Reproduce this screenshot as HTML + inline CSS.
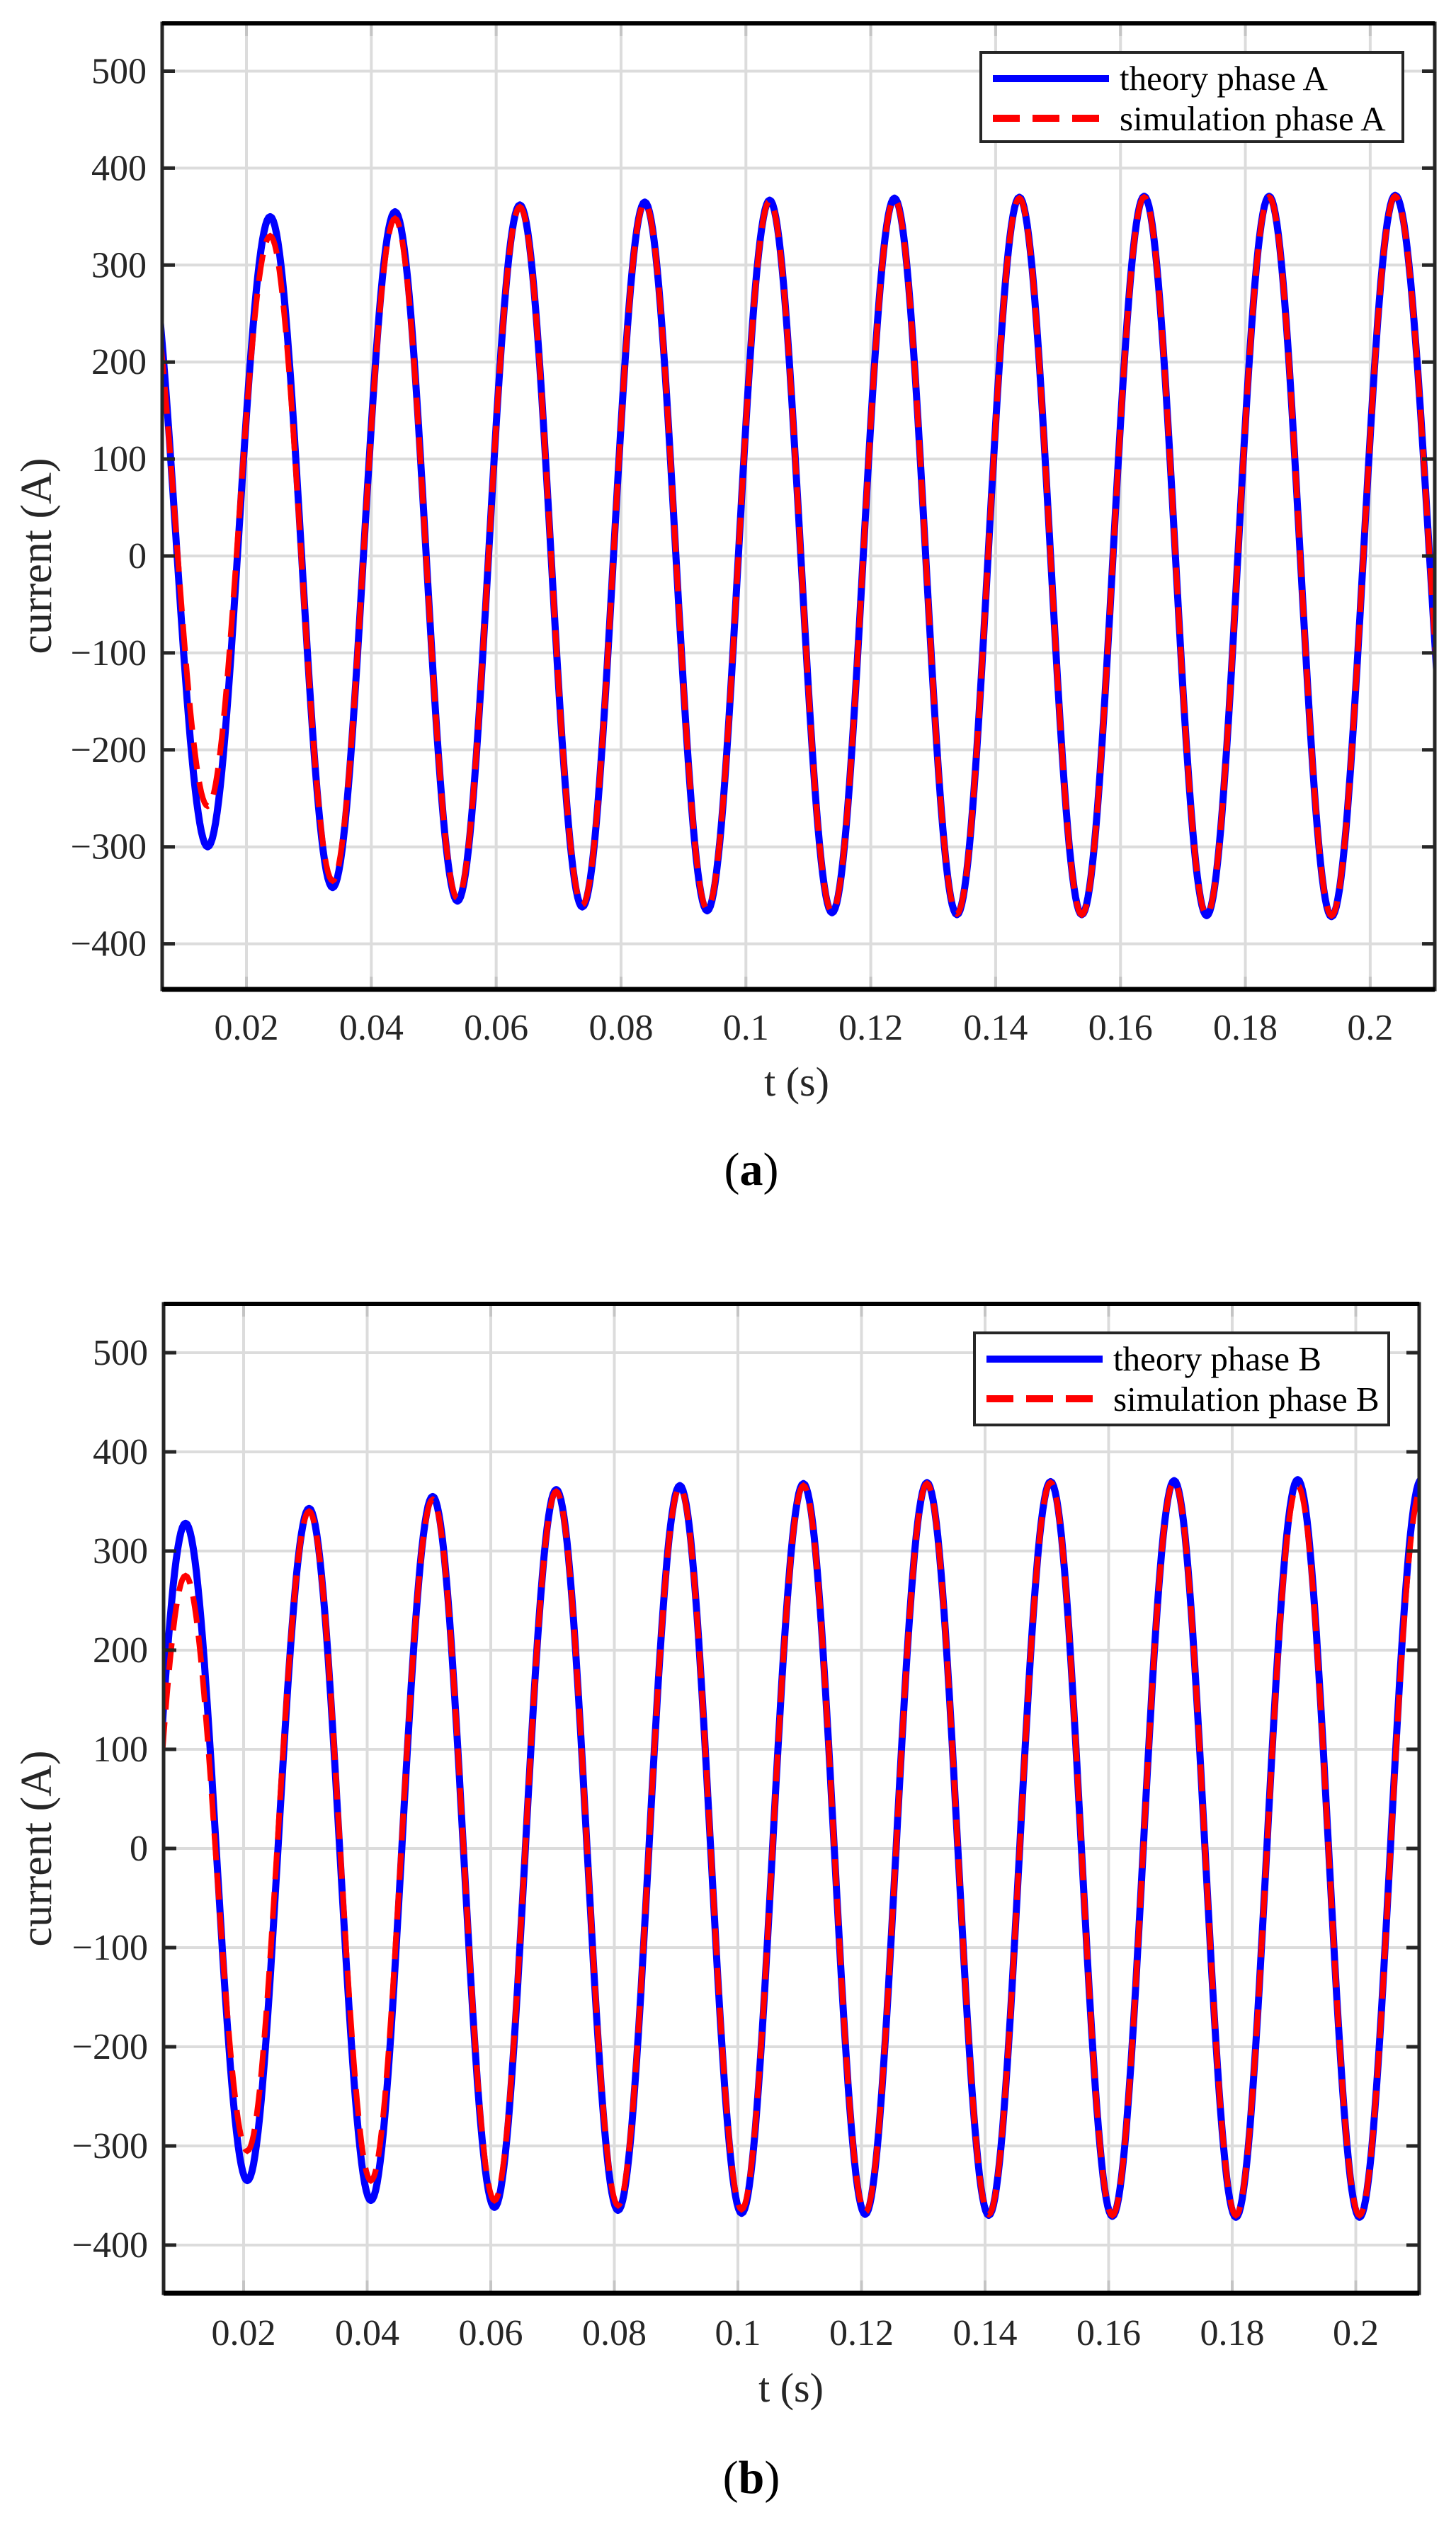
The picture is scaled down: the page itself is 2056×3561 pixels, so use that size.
<!DOCTYPE html>
<html><head><meta charset="utf-8"><style>
html,body{margin:0;padding:0;background:#fff;}
svg{display:block;font-family:"Liberation Serif","Times New Roman",serif;}
</style></head><body>
<svg id="root" width="2056" height="3561" viewBox="0 0 2056 3561" xmlns="http://www.w3.org/2000/svg"></svg>
<script>
// ---- data ----
const yTicks = [500,400,300,200,100,0,-100,-200,-300,-400];
const yTickLabels = ["500","400","300","200","100","0","\u2212100","\u2212200","\u2212300","\u2212400"];
const xTicks = [0.02,0.04,0.06,0.08,0.1,0.12,0.14,0.16,0.18,0.2];
const xTickLabels = ["0.02","0.04","0.06","0.08","0.1","0.12","0.14","0.16","0.18","0.2"];
// Phase A extrema (time of extrema, values) - includes a virtual leading peak
const extremaTimesA = [0.0036,0.0138,0.0238,0.0338,0.0438,0.0538,0.0638,0.0738,0.0838,0.0938,0.1038,0.1138,0.1238,0.1338,0.1438,0.1538,0.1638,0.1738,0.1838,0.1938,0.2040,0.2150];
const theoryA = [339,-300,350,-342,355,-356,362,-362,365,-366,367,-368,369,-370,370,-370,371,-371,371,-372,372,-372];
const simA = [310,-258,330,-335,348,-353,360,-360,364,-364,366,-367,368,-369,369,-370,370,-370,370,-371,371,-371];
// Phase B extrema - includes a virtual leading trough
const extremaTimesB = [0.0006,0.0106,0.0206,0.0306,0.0406,0.0506,0.0606,0.0706,0.0806,0.0906,0.1006,0.1106,0.1206,0.1306,0.1406,0.1506,0.1606,0.1706,0.1806,0.1906,0.2006,0.2106];
const theoryB = [-333,328,-335,343,-355,355,-362,362,-365,366,-368,368,-369,369,-370,370,-371,371,-372,372,-372,372];
const simB = [-303,275,-305,340,-335,352,-355,360,-360,364,-364,366,-367,368,-369,369,-370,370,-370,366,-370,362];

const NS="http://www.w3.org/2000/svg";
const root=document.getElementById('root');
function mk(tag,attrs,parent){const e=document.createElementNS(NS,tag);for(const k in attrs)e.setAttribute(k,attrs[k]);(parent||root).appendChild(e);return e;}

function panel(cfg){
  const g=mk('g',{});
  
  
  const L=cfg.left,R=cfg.right,T=cfg.top,B=cfg.bottom;
  const xs=t=>cfg.x02+(t-0.02)*cfg.pxPerT;
  const ys=v=>cfg.y0-v*cfg.pxPerA;
  const cid='clip-'+cfg.name;
  const defs=mk('defs',{},g);
  const cp=mk('clipPath',{id:cid},defs);
  mk('rect',{x:L,y:T,width:R-L,height:B-T},cp);
  const grid=mk('g',{},g);
  
  
  yTicks.forEach(v=>{const y=ys(v);mk('line',{x1:L,x2:R,y1:y,y2:y,stroke:'#dcdcdc','stroke-width':4},grid);});
  xTicks.forEach(t=>{const x=xs(t);mk('line',{x1:x,x2:x,y1:T,y2:B,stroke:'#dcdcdc','stroke-width':4},grid);
    mk('line',{x1:x,x2:x,y1:T,y2:T+18,stroke:'#c4c4c4','stroke-width':4},grid);
    mk('line',{x1:x,x2:x,y1:B-18,y2:B,stroke:'#c4c4c4','stroke-width':4},grid);});
  function path(times,vals){
    let d='';const t0=cfg.tmin,t1=cfg.tmax;
    for(let i=0;i<times.length-1;i++){
      const ta=times[i],tb=times[i+1],va=vals[i],vb=vals[i+1];
      for(let k=0;k<=40;k++){const f=k/40;const t=ta+(tb-ta)*f;
        if(t<t0-0.002||t>t1+0.002)continue;
        const v=va+(vb-va)*(1-Math.cos(Math.PI*f))/2;
        d+=(d?'L':'M')+xs(t).toFixed(1)+' '+ys(v).toFixed(1);}
    }
    return d;
  }
  const sg=mk('g',{'clip-path':'url(#'+cid+')'},g);
  const p1=mk('path',{d:path(cfg.times,cfg.theory),fill:'none',stroke:'#0000ff','stroke-width':10,'stroke-linejoin':'round'},sg);
  
  
  const p2=mk('path',{d:path(cfg.times,cfg.sim),fill:'none',stroke:'#ff0000','stroke-width':8,'stroke-dasharray':'38 18'},sg);
  
  
  const ax=mk('rect',{x:L,y:T,width:R-L,height:B-T,fill:'none',stroke:'#262626','stroke-width':5},g);
  
  
  mk('line',{x1:L,x2:R,y1:T,y2:T,stroke:'#000','stroke-width':6},g);
  mk('line',{x1:L,x2:R,y1:B,y2:B,stroke:'#000','stroke-width':7},g);
  yTicks.forEach((v,i)=>{const y=ys(v);
    mk('line',{x1:L,x2:L+18,y1:y,y2:y,stroke:'#262626','stroke-width':5},g);
    mk('line',{x1:R-18,x2:R,y1:y,y2:y,stroke:'#262626','stroke-width':5},g);
    const tx=mk('text',{x:L-22,y:y+17,'text-anchor':'end','font-size':52,fill:'#262626'},g);
    tx.textContent=yTickLabels[i];
    
    });
  xTicks.forEach((t,i)=>{const x=xs(t);
    const tx=mk('text',{x:x,y:cfg.xLabelY,'text-anchor':'middle','font-size':52,fill:'#262626'},g);
    tx.textContent=xTickLabels[i];
    
    });
  const xt=mk('text',{x:cfg.xTitleX,y:cfg.xTitleY,'text-anchor':'middle','font-size':58,fill:'#262626'},g);
  xt.textContent='t (s)';
  
  
  const yt=mk('text',{x:0,y:0,'text-anchor':'middle','font-size':62,fill:'#262626',transform:'translate('+cfg.yTitleX+','+ys(0)+') rotate(-90)'},g);
  yt.textContent='current (A)';
  
  
  const lg=mk('g',{},g);
  
  
  const lb=cfg.legend;
  mk('rect',{x:lb.x,y:lb.y,width:lb.w,height:lb.h,fill:'#fff',stroke:'#262626','stroke-width':4},lg);
  mk('line',{x1:lb.x+17,x2:lb.x+181,y1:lb.y+37,y2:lb.y+37,stroke:'#0000ff','stroke-width':10},lg);
  mk('line',{x1:lb.x+17,x2:lb.x+181,y1:lb.y+93,y2:lb.y+93,stroke:'#ff0000','stroke-width':10,'stroke-dasharray':'38 18'},lg);
  const e1=mk('text',{x:lb.x+196,y:lb.y+53,'font-size':49,fill:'#000'},lg);
  e1.textContent='theory phase '+cfg.phase;
  
  
  const e2=mk('text',{x:lb.x+196,y:lb.y+110,'font-size':49,fill:'#000'},lg);
  e2.textContent='simulation phase '+cfg.phase;
  
  
  const cap=mk('text',{x:1061,y:cfg.capY,'text-anchor':'middle','font-size':66,fill:'#000'},g);
  cap.innerHTML='(<tspan font-weight="bold">'+cfg.cap+'</tspan>)';
  
  
}

panel({name:'panel-a',left:229,right:2026,top:33,bottom:1397,x02:348,pxPerT:8816,y0:785,pxPerA:1.369,
  tmin:0.0065,tmax:0.21,times:extremaTimesA,theory:theoryA,sim:simA,phase:'A',
  xLabelY:1468,xTitleX:1125,xTitleY:1547,yTitleX:72,legend:{x:1385,y:74,w:596,h:126},capY:1673,cap:'a'});
panel({name:'panel-b',left:231,right:2004,top:1841,bottom:3238,x02:344,pxPerT:8725,y0:2610,pxPerA:1.40,
  tmin:0.00705,tmax:0.21,times:extremaTimesB,theory:theoryB,sim:simB,phase:'B',
  xLabelY:3311,xTitleX:1117,xTitleY:3391,yTitleX:72,legend:{x:1376,y:1882,w:585,h:130},capY:3520,cap:'b'});
</script>
</body></html>
